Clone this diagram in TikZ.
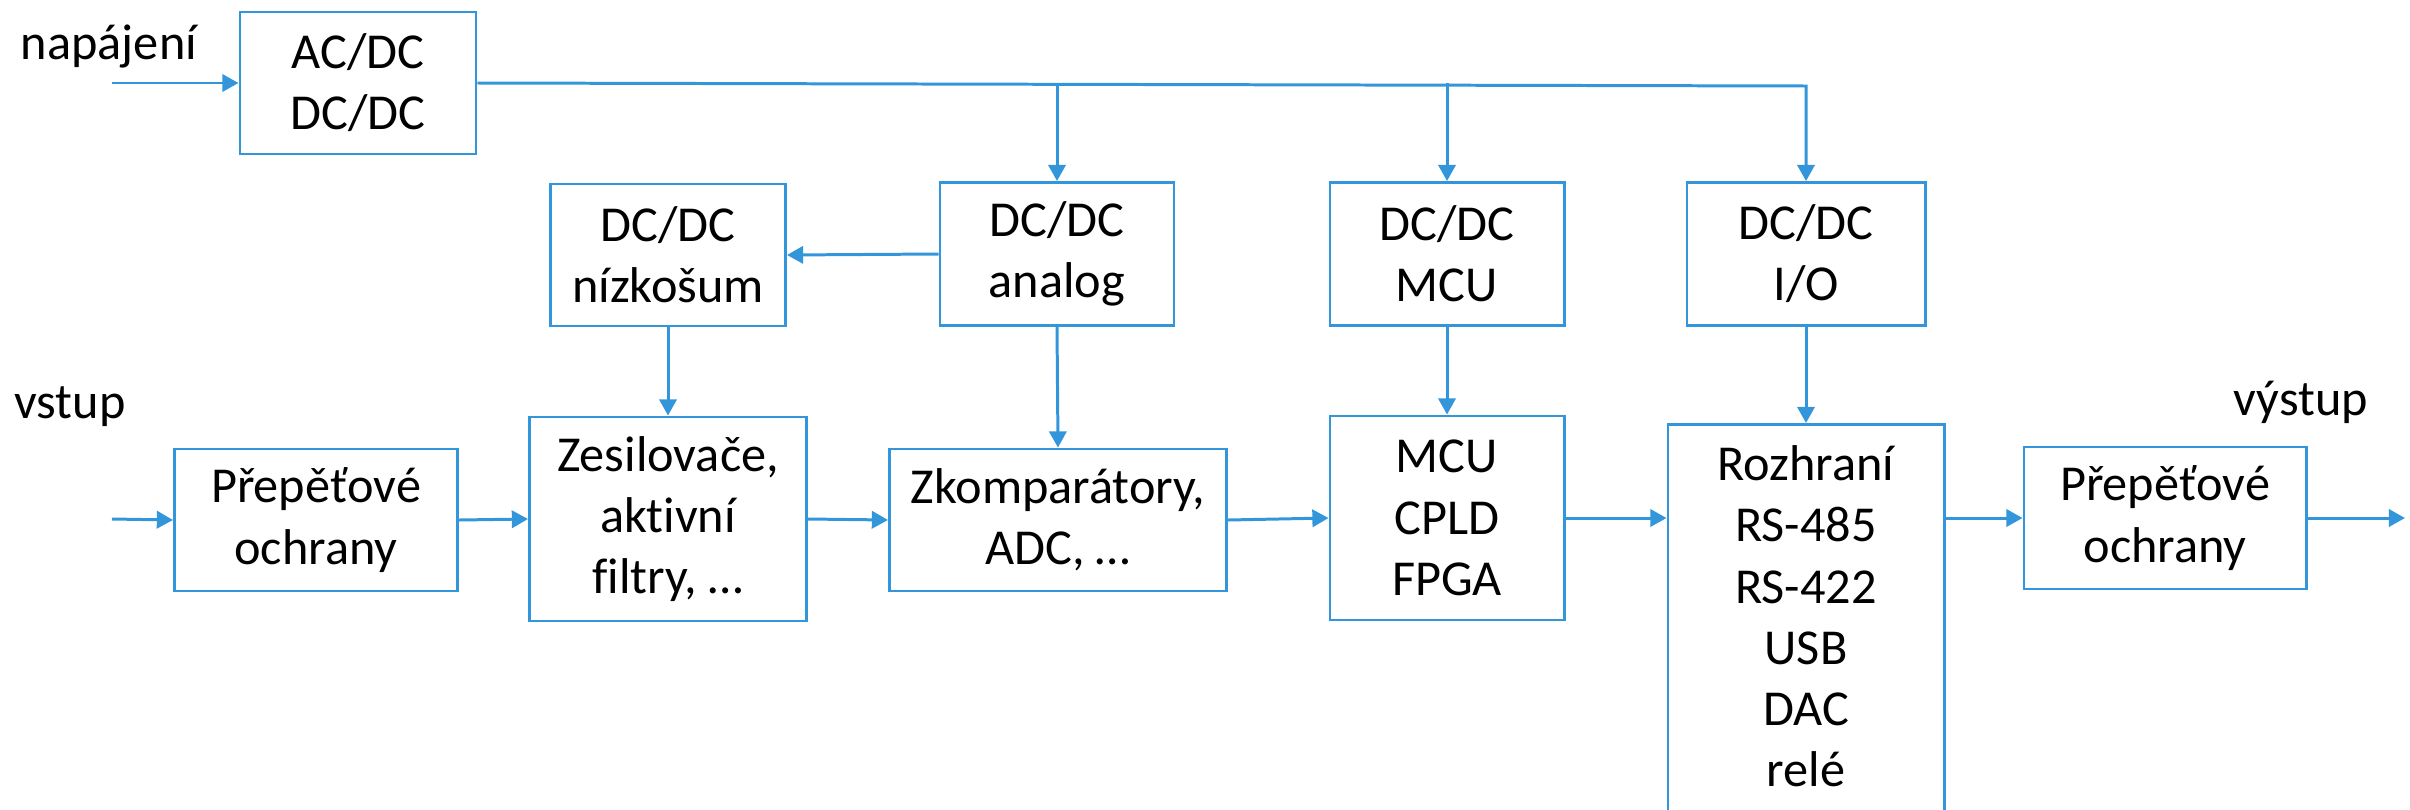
\documentclass[tikz,border=0pt]{standalone}
\usepackage{fontspec}
\setmainfont{Carlito}[Ligatures=NoCommon]
\usepackage{tikz}
\usetikzlibrary{calc}
\usetikzlibrary{positioning}
\usetikzlibrary{arrows.meta}
\definecolor{modra}{RGB}{52,150,218}
\tikzset{
  blok/.style = {draw=modra, line width=0.8pt, align=center, inner sep=0pt,
    font=\fontsize{14.3}{17.4}\selectfont},
  popis/.style = {inner sep=0pt, align=center, font=\fontsize{14.3}{17.4}\selectfont},
  sipka/.style = {draw=modra, line width=0.85pt, -{Triangle[length=4.6pt,width=4.9pt]}},
}

\begin{document}
\begin{tikzpicture}[x=0.01cm, y=-0.01cm]
\clip (0,0) rectangle (2410,809);
% napajeni
\node [blok, minimum width=2.36cm, minimum height=1.42cm] (acdc) at (358,83) {AC/DC\\DC/DC};
\node [blok, minimum width=2.35cm, minimum height=1.42cm] (nizko) at (668,255) {DC/DC\\nízkošum};
\node [blok, minimum width=2.34cm, minimum height=1.43cm] (analog) at (1057,254) {DC/DC\\analog};
\node [blok, minimum width=2.34cm, minimum height=1.43cm] (dcmcu) at (1447,254) {DC/DC\\MCU};
\node [blok, minimum width=2.38cm, minimum height=1.43cm] (dcio) at (1806,254) {DC/DC\\I/O};
% signalova cesta
\node [blok, minimum width=2.83cm, minimum height=1.42cm] (ochrIn) at (316,520) {Přepěťové\\ochrany};
\node [blok, minimum width=2.77cm, minimum height=2.04cm] (zesil) at (668,519) {Zesilovače,\\aktivní\\filtry, …};
\node [blok, minimum width=3.37cm, minimum height=1.42cm] (zkomp) at (1058,520) {Zkomparátory,\\ADC, …};
\node [blok, minimum width=2.34cm, minimum height=2.04cm] (mcu) at (1447,518) {MCU\\CPLD\\FPGA};
\node [blok, anchor=north, minimum width=2.76cm, minimum height=4.2cm] (rozhr) at (1806,423) {};
\node [popis, anchor=north] (rozhrTxt) at (1806,445) {Rozhraní\\RS-485\\RS-422\\USB\\DAC\\relé};
\node [blok, minimum width=2.82cm, minimum height=1.42cm] (ochrOut) at (2165,518) {Přepěťové\\ochrany};
% popisky
\node [popis, anchor=base] (napajeni) at (109,59) {napájení};
\node [popis, anchor=base] (vstup) at (70,418) {vstup};
\node [popis, anchor=base] (vystup) at (2301,415) {výstup};
\coordinate (napIn) at (112,83);
\coordinate (vstIn) at (112,519);
\coordinate (vystOut) at (2405,518);
\coordinate (sbernice) at (1806,86);
% napajeci vetve
\draw [sipka] (napIn) -- (acdc.west);
\draw [sipka] (acdc.east) -- (sbernice) -- (dcio.north);
\draw [sipka] (analog.north |- acdc.east) -- (analog.north);
\draw [sipka] (dcmcu.north |- acdc.east) -- (dcmcu.north);
\draw [sipka] (analog.west) -- (nizko.east);
\draw [sipka] (nizko.south) -- (zesil.north);
\draw [sipka] (analog.south) -- (zkomp.north);
\draw [sipka] (dcmcu.south) -- (mcu.north);
\draw [sipka] (dcio.south) -- (rozhr.north);
% signal
\draw [sipka] (vstIn) -- (ochrIn.west);
\draw [sipka] (ochrIn.east) -- (zesil.west);
\draw [sipka] (zesil.east) -- (zkomp.west);
\draw [sipka] (zkomp.east) -- (mcu.west);
\draw [sipka] (mcu.east) -- (mcu.east -| rozhr.west);
\draw [sipka] (ochrOut.west -| rozhr.east) -- (ochrOut.west);
\draw [sipka] (ochrOut.east) -- (vystOut);
\end{tikzpicture}
\end{document}
